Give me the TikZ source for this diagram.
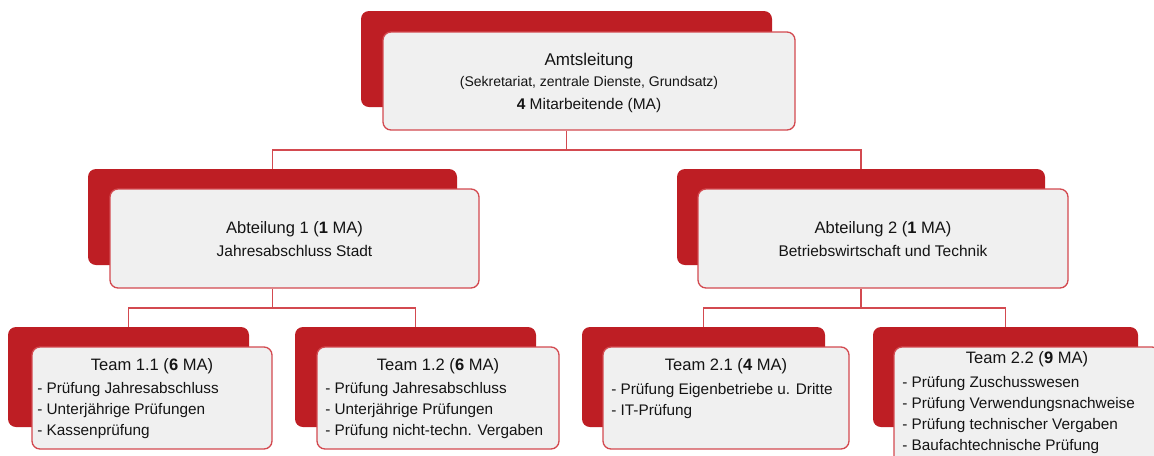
\documentclass[tikz,border=0pt]{standalone}
\usepackage{fontspec}
\setmainfont{Liberation Sans}
\definecolor{backred}{HTML}{BE1E24}
\definecolor{linered}{HTML}{D34A50}
\definecolor{frontfill}{HTML}{F0F0F0}
\definecolor{txt}{HTML}{141414}
\begin{document}
\begin{tikzpicture}[x=0.75pt,y=-0.75pt,
  backbox/.style={fill=backred, draw=none, rounded corners=6pt, inner sep=0pt},
  frontbox/.style={fill=frontfill, draw=linered, line width=1pt, rounded corners=6pt, inner sep=0pt},
  conn/.style={draw=linered, line width=1pt},
  ttl/.style={font=\fontsize{12.4}{14}\selectfont, text=txt, inner sep=0pt, anchor=base},
  sub/.style={font=\fontsize{11.6}{14}\selectfont, text=txt, inner sep=0pt, anchor=base},
  item/.style={font=\fontsize{11.5}{14}\selectfont, text=txt, inner sep=0pt, anchor=base west}]
\useasboundingbox (0,0) rectangle (1154,455);
\clip (0,0) rectangle (1154,455);
% ---------- Amtsleitung ----------
\node[backbox, minimum width=308.25pt, minimum height=72pt] (topback) at (566.5,59) {};
\node[frontbox, minimum width=309pt, minimum height=73.5pt] (top) at (589,81) {};
\node[font=\fontsize{12.75}{14}\selectfont, text=txt, inner sep=0pt, anchor=base] (topt1) at (589,65) {Amtsleitung};
\node[font=\fontsize{10.5}{12}\selectfont, text=txt, inner sep=0pt, anchor=base] (topt2) at (589,86) {(Sekretariat, zentrale Dienste, Grundsatz)};
\node[font=\fontsize{11.6}{14}\selectfont, text=txt, inner sep=0pt, anchor=base] (topt3) at (589,109) {\textbf{4} Mitarbeitende (MA)};
% ---------- Abteilung 1 ----------
\node[backbox, minimum width=276.75pt, minimum height=72pt] (a1back) at (272.5,217) {};
\node[frontbox, minimum width=276.75pt, minimum height=74.25pt] (a1) at (294.5,238.5) {};
\node[ttl] (a1t1) at (294.5,233) {Abteilung 1 (\textbf{1} MA)};
\node[sub] (a1t2) at (294.5,256) {Jahresabschluss Stadt};
% ---------- Abteilung 2 ----------
\node[backbox, minimum width=276pt, minimum height=72pt] (a2back) at (861,217) {};
\node[frontbox, minimum width=277.5pt, minimum height=74.25pt] (a2) at (883,238.5) {};
\node[ttl] (a2t1) at (883,233) {Abteilung 2 (\textbf{1} MA)};
\node[sub] (a2t2) at (883,256) {Betriebswirtschaft und Technik};
% ---------- Team 1.1 ----------
\node[backbox, minimum width=180.75pt, minimum height=75pt] (t11back) at (128.5,377) {};
\node[frontbox, minimum width=180pt, minimum height=76.5pt] (t11) at (152,398) {};
\node[ttl] (t11t) at (152,370) {Team 1.1 (\textbf{6} MA)};
\node[item] (t11a) at (37,393) {- Prüfung Jahresabschluss};
\node[item] (t11b) at (37,414) {- Unterjährige Prüfungen};
\node[item] (t11c) at (37,435) {- Kassenprüfung};
% ---------- Team 1.2 ----------
\node[backbox, minimum width=180.75pt, minimum height=75pt] (t12back) at (415.5,377) {};
\node[frontbox, minimum width=181.5pt, minimum height=76.5pt] (t12) at (438,398) {};
\node[ttl] (t12t) at (438,370) {Team 1.2 (\textbf{6} MA)};
\node[item] (t12a) at (325,393) {- Prüfung Jahresabschluss};
\node[item] (t12b) at (325,414) {- Unterjährige Prüfungen};
\node[item] (t12c) at (325,435) {- Prüfung nicht-techn. Vergaben};
% ---------- Team 2.1 ----------
\node[backbox, minimum width=182.25pt, minimum height=75pt] (t21back) at (703.5,377) {};
\node[frontbox, minimum width=184.5pt, minimum height=76.5pt] (t21) at (726,398) {};
\node[ttl] (t21t) at (726,370) {Team 2.1 (\textbf{4} MA)};
\node[item] (t21a) at (611,394) {- Prüfung Eigenbetriebe u. Dritte};
\node[item] (t21b) at (611,415) {- IT-Prüfung};
% ---------- Team 2.2 ----------
\node[backbox, minimum width=198.75pt, minimum height=75pt] (t22back) at (1005.5,377) {};
\node[frontbox, minimum width=199.5pt, minimum height=90pt] (t22) at (1027,407) {};
\node[ttl] (t22t) at (1027,363) {Team 2.2 (\textbf{9} MA)};
\node[item] (t22a) at (902,387) {- Prüfung Zuschusswesen};
\node[item] (t22b) at (902,408) {- Prüfung Verwendungsnachweise};
\node[item] (t22c) at (902,429) {- Prüfung technischer Vergaben};
\node[item] (t22d) at (902,450) {- Baufachtechnische Prüfung};
% ---------- connectors ----------
\coordinate (j0) at (566.5,150);
\coordinate (j1) at (272.5,308);
\coordinate (j2) at (861,308);
\draw[conn] (topback.center |- top.south) -- (j0);
\draw[conn] (j0) -| (a1back.north);
\draw[conn] (j0) -| (a2back.north);
\draw[conn] (a1back.center |- a1.south) -- (j1);
\draw[conn] (j1) -| (t11back.north);
\draw[conn] (j1) -| (t12back.north);
\draw[conn] (a2back.center |- a2.south) -- (j2);
\draw[conn] (j2) -| (t21back.north);
\draw[conn] (j2) -| (t22back.north);
\end{tikzpicture}
\end{document}
